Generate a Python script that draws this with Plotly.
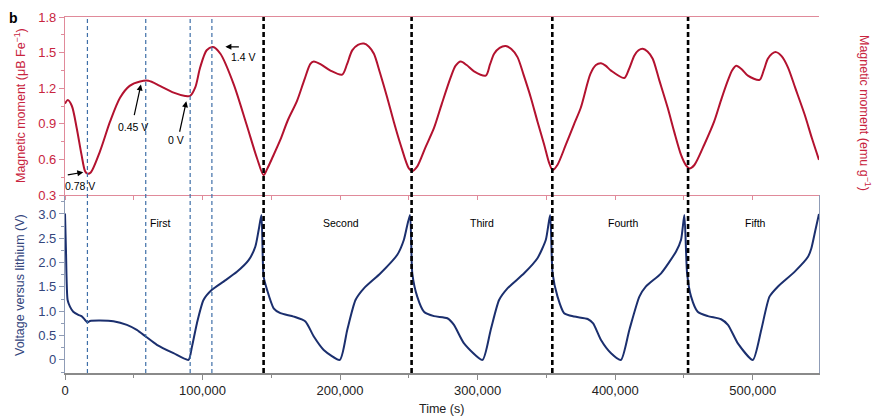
import plotly.graph_objects as go

# ---------------- data ----------------
mag_time = [0, 2000, 5000, 8500, 12000, 14600, 16300, 18700, 25500, 32800, 40000, 47000,
            54600, 60700, 69000, 79000, 87400, 91000, 94700, 98300, 103000, 107600, 113000,
            122600, 132000, 139600, 144400, 147000, 151000, 156600, 162000, 168700, 174000,
            178400, 180900, 186000, 193000, 201500, 205000, 208800, 213000, 217300, 221000,
            224600, 229000, 234300, 239000, 244000, 250000, 252500, 256000, 262000, 268300,
            274000, 280400, 284000, 287700, 292000, 297400, 305900, 309000, 312000, 316000,
            320500, 324500, 329000, 333500, 338700, 343500, 348400, 352000, 354500, 358000,
            364000, 370000, 375000, 382000, 386000, 389700, 393000, 397000, 406600, 410000,
            414000, 417000, 420000, 423500, 427300, 432000, 438200, 443000, 447900, 451500,
            454000, 457600, 465000, 472000, 477000, 481900, 485000, 488000, 492000, 496500,
            505000, 508000, 511000, 514000, 517000, 521000, 525600, 531000, 537700, 543000,
            548200]
mag_moment = [1.07, 1.10, 1.05, 0.865, 0.64, 0.50, 0.48, 0.49, 0.67, 0.92, 1.12, 1.22,
              1.257, 1.263, 1.22, 1.163, 1.135, 1.135, 1.206, 1.376, 1.52, 1.547, 1.49,
              1.235, 0.894, 0.61, 0.467, 0.52, 0.62, 0.766, 0.93, 1.093, 1.27,
              1.405, 1.425, 1.40, 1.348, 1.314, 1.40, 1.519, 1.565, 1.576, 1.55,
              1.49, 1.33, 1.12, 0.92, 0.724, 0.524, 0.502, 0.539, 0.70, 0.865,
              1.07, 1.291, 1.39, 1.425, 1.395, 1.342, 1.306, 1.40, 1.49, 1.54,
              1.555, 1.53, 1.462, 1.31, 1.12, 0.92, 0.724, 0.57, 0.51, 0.553,
              0.72, 0.894, 1.035, 1.32, 1.395, 1.41, 1.39, 1.348, 1.286, 1.36,
              1.476, 1.52, 1.533, 1.51, 1.448, 1.27, 1.035, 0.83, 0.638, 0.55,
              0.524, 0.553, 0.73, 0.92, 1.10, 1.263, 1.35, 1.39, 1.36, 1.306,
              1.27, 1.35, 1.448, 1.49, 1.504, 1.47, 1.376, 1.20, 0.98, 0.78,
              0.596]

volt_time = [0, 700, 1900, 3600, 6000, 9700, 12000, 14600, 16300, 18200, 25500, 35200,
             45000, 52200, 58700, 66800, 78900, 89800, 92300, 95900, 100700, 106800, 115300,
             125000, 133500, 138400, 140800, 142800, 144400, 146900, 151700, 156600, 166300,
             174800, 180900, 188100, 199800, 205200, 211200, 217300, 229400, 241600, 246400,
             250800, 252500, 256100, 261000, 268300, 278000, 282800, 290100, 303500, 309500,
             315600, 321700, 333800, 343500, 349600, 352700, 354500, 358100, 362900, 370200,
             380000, 384000, 389700, 397000, 404200, 410300, 417600, 422400, 433400, 444300,
             447900, 450300, 452300, 455200, 460000, 467400, 477000, 482000, 489200, 500100,
             506200, 512200, 518400, 530400, 540200, 542600, 545600, 548200]
voltage = [3.01, 2.26, 1.23, 1.095, 0.99, 0.925, 0.90, 0.82, 0.77, 0.80, 0.808, 0.795,
           0.72, 0.616, 0.48, 0.31, 0.137, 0.0, 0.27, 0.75, 1.23, 1.44, 1.61,
           1.81, 2.05, 2.33, 2.67, 2.98, 1.71, 1.44, 1.06, 0.96, 0.89,
           0.79, 0.48, 0.205, 0.0, 0.616, 1.23, 1.47, 1.78, 2.16, 2.47,
           2.98, 1.78, 1.30, 0.99, 0.90, 0.856, 0.72, 0.34, 0.0, 0.616,
           1.23, 1.47, 1.78, 2.09, 2.47, 2.98, 1.78, 1.30, 0.96, 0.89,
           0.84, 0.75, 0.41, 0.137, 0.0, 0.616, 1.30, 1.51, 1.78, 2.23,
           2.47, 2.98, 1.78, 1.30, 0.99, 0.90, 0.835, 0.72, 0.34, 0.0,
           0.616, 1.30, 1.51, 1.81, 2.12, 2.29, 2.67, 3.0]

cycle_boundaries = [144400, 252000, 354300, 453000]
state_times = [16300, 58700, 91000, 106800]

cycle_names = ["First", "Second", "Third", "Fourth", "Fifth"]
cycle_label_times = [69000, 201000, 303000, 406000, 502000]

volt_tickvals = [0, 0.5, 1.0, 1.5, 2.0, 2.5, 3.0]
volt_ticktext = ["0", "0.5", "1.0", "1.5", "2.0", "2.5", "3.0"]
time_tickvals = [0, 100000, 200000, 300000, 400000, 500000]
time_ticktext = ["0", "100,000", "200,000", "300,000", "400,000", "500,000"]

# ---------------- style ----------------
FONT = "Liberation Sans, Arial, Helvetica, sans-serif"
RED_LINE = "#b3122f"
RED_TEXT = "#c8243e"
PINK_AXIS = "#e08a9a"
NAVY_LINE = "#1b2f6e"
NAVY_TEXT = "#33457c"
BLUE_AXIS = "#8f9cb6"
GRAY_AXIS = "#8a8a8a"

# the page body adds an 8 px offset; size the figure so the plot area lands at
# 65..819 px horizontally and 17..373 px vertically in the window
BODY = 8
FIG_W, FIG_H = 880 - BODY, 420 - BODY
M_L, M_R, M_T, M_B = 65 - BODY, 880 - 819, 17 - BODY, 420 - 373

fig = go.Figure()
fig.add_trace(go.Scatter(x=mag_time, y=mag_moment, xaxis="x2", yaxis="y2", mode="lines",
                         line=dict(color=RED_LINE, width=2, shape="spline", smoothing=0.8),
                         hoverinfo="skip", showlegend=False))
fig.add_trace(go.Scatter(x=volt_time, y=voltage, xaxis="x", yaxis="y", mode="lines",
                         line=dict(color=NAVY_LINE, width=2, shape="spline", smoothing=0.6),
                         hoverinfo="skip", showlegend=False))

shapes = []
for t in state_times:
    shapes.append(dict(type="line", xref="x", yref="paper", x0=t, x1=t, y0=0, y1=1,
                       line=dict(color="#3f6fa8", width=1.2, dash="4px,3px")))
for t in cycle_boundaries:
    shapes.append(dict(type="line", xref="x", yref="paper", x0=t, x1=t, y0=0, y1=1,
                       line=dict(color="black", width=2.6, dash="5px,3px")))

annotations = []
# arrows (head at curve feature, tail offset in px)
arrows = [
    (13300, 0.492, -17, 3),
    (55200, 1.231, -7, 32),
    (88200, 1.090, -7, 32),
    (116600, 1.549, 15, 0),
]
for hx, hy, ax, ay in arrows:
    annotations.append(dict(x=hx, y=hy, xref="x2", yref="y2", text="", showarrow=True,
                            ax=ax, ay=ay, arrowhead=2, arrowsize=1, arrowwidth=1.2,
                            arrowcolor="black", standoff=0))
state_labels = [("0.78 V", 10900, 0.372), ("0.45 V", 49300, 0.873),
                ("0 V", 80900, 0.760), ("1.4 V", 129900, 1.464)]
for txt, tx, ty in state_labels:
    annotations.append(dict(x=tx, y=ty, xref="x2", yref="y2", text=txt, showarrow=False,
                            xanchor="center", yanchor="middle",
                            font=dict(family=FONT, size=10.5, color="black")))
for name, t in zip(cycle_names, cycle_label_times):
    annotations.append(dict(x=t, y=2.81, xref="x", yref="y", text=name, showarrow=False,
                            xanchor="center", yanchor="middle",
                            font=dict(family=FONT, size=10.5, color="black")))

# axis titles as annotations (paper coords; plot area 65..819 px, 17..373 px)
def px_x(p):
    return (p - 65) / 754.0

def px_y(p):
    return (373 - p) / 356.0

annotations += [
    dict(x=px_x(20), y=px_y(106), xref="paper", yref="paper", showarrow=False,
         text="Magnetic moment (μB Fe<sup>−1</sup>)", textangle=-90,
         xanchor="center", yanchor="middle", font=dict(family=FONT, size=12.5, color=RED_TEXT)),
    dict(x=px_x(20), y=px_y(285), xref="paper", yref="paper", showarrow=False,
         text="Voltage versus lithium (V)", textangle=-90,
         xanchor="center", yanchor="middle", font=dict(family=FONT, size=12.5, color=NAVY_TEXT)),
    dict(x=px_x(865), y=px_y(113), xref="paper", yref="paper", showarrow=False,
         text="Magnetic moment (emu g<sup>−1</sup>)", textangle=90,
         xanchor="center", yanchor="middle", font=dict(family=FONT, size=12.5, color=RED_TEXT)),
    dict(x=px_x(441), y=px_y(409), xref="paper", yref="paper", showarrow=False,
         text="Time (s)", xanchor="center", yanchor="middle",
         font=dict(family=FONT, size=12.5, color="#222222")),
    dict(x=px_x(13), y=px_y(8), xref="paper", yref="paper", showarrow=False,
         text="<b>b</b>", xanchor="center", yanchor="top",
         font=dict(family=FONT, size=14, color="black")),
]

tickfont_red = dict(family=FONT, size=13, color=RED_TEXT)
tickfont_navy = dict(family=FONT, size=13, color=NAVY_TEXT)

fig.update_layout(
    width=FIG_W, height=FIG_H,
    margin=dict(l=M_L, r=M_R, t=M_T, b=M_B, autoexpand=False),
    paper_bgcolor="white", plot_bgcolor="white",
    showlegend=False,
    shapes=shapes,
    annotations=annotations,
    xaxis=dict(domain=[0, 1], anchor="y", range=[0, 548200],
               tickvals=time_tickvals, ticktext=time_ticktext,
               tickfont=dict(family=FONT, size=13, color="#222222"),
               showline=True, linecolor=GRAY_AXIS, linewidth=1.5,
               ticks="outside", ticklen=5, tickcolor=GRAY_AXIS, tickwidth=1,
               minor=dict(dtick=50000, tick0=0, ticks="outside", ticklen=3, tickcolor=GRAY_AXIS),
               showgrid=False, zeroline=False),
    xaxis2=dict(domain=[0, 1], anchor="y2", matches="x", range=[0, 548200],
                showticklabels=False, showline=True, linecolor=PINK_AXIS, linewidth=1.2,
                mirror=True, ticks="outside", ticklen=4, tickcolor=PINK_AXIS,
                dtick=50000, tick0=0, showgrid=False, zeroline=False),
    yaxis=dict(domain=[0, 0.5], anchor="x", range=[-0.27, 3.39],
               tickvals=volt_tickvals, ticktext=volt_ticktext, tickfont=tickfont_navy,
               showline=True, linecolor=BLUE_AXIS, linewidth=1.2, mirror=True,
               ticks="outside", ticklen=5, tickcolor=BLUE_AXIS,
               minor=dict(dtick=0.25, tick0=0, ticks="outside", ticklen=3, tickcolor=BLUE_AXIS),
               showgrid=False, zeroline=False),
    yaxis2=dict(domain=[0.5, 1], anchor="x2", range=[0.3, 1.8],
                tick0=0.3, dtick=0.3, tickformat=".1f", tickfont=tickfont_red,
                showline=True, linecolor=PINK_AXIS, linewidth=1.2,
                ticks="outside", ticklen=5, tickcolor=PINK_AXIS,
                minor=dict(dtick=0.15, tick0=0.3, ticks="outside", ticklen=3, tickcolor=PINK_AXIS),
                showgrid=False, zeroline=False),
    yaxis3=dict(overlaying="y2", side="right", anchor="x2", range=[20, 130],
                tick0=20, dtick=20, tickfont=tickfont_red,
                showline=True, linecolor=PINK_AXIS, linewidth=1.2,
                ticks="outside", ticklen=5, tickcolor=PINK_AXIS,
                minor=dict(dtick=10, tick0=20, ticks="outside", ticklen=3, tickcolor=PINK_AXIS),
                showgrid=False, zeroline=False),
)

fig.write_html("out.html")
